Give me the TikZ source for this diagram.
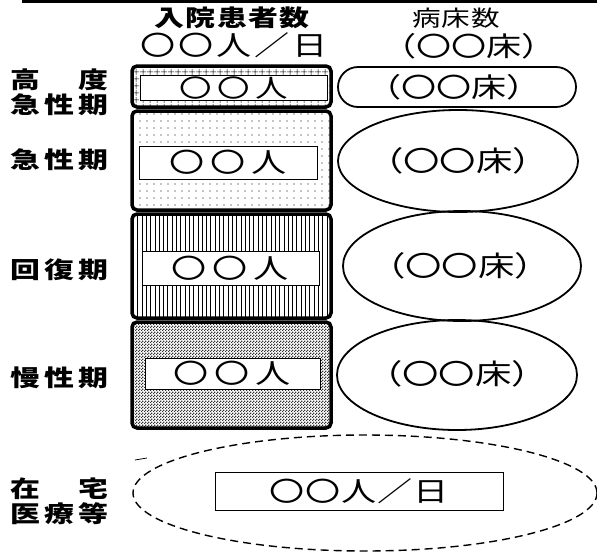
\documentclass[tikz,border=0pt]{standalone}
\usepackage{fontspec}
\newfontfamily\gothic[FakeStretch=1.3]{Noto Sans CJK JP}
\usetikzlibrary{shapes.geometric, shapes.misc, patterns, patterns.meta}

\tikzdeclarepattern{
  name=finechecker, type=uncolored,
  bounding box={(0,0) and (3pt,3pt)}, tile size={(3pt,3pt)},
  code={\fill (0,0) rectangle (1.5pt,1.5pt); \fill (1.5pt,1.5pt) rectangle (3pt,3pt);}
}

\begin{document}
\begin{tikzpicture}[x=1pt, y=-1pt,
    ward/.style={draw, line width=3.5pt, rounded corners=5pt, minimum width=199pt, inner sep=0pt},
    cnt/.style={draw, fill=white, line width=0.8pt, inner sep=0pt, font=\gothic\fontsize{27}{30}\selectfont\addfontfeatures{LetterSpace=22}},
    bed/.style={draw, ellipse, line width=1.8pt, inner sep=0pt},
    bedtxt/.style={inner sep=0pt, font=\gothic\fontsize{28}{30}\selectfont},
    lbl/.style={font=\gothic\bfseries\fontsize{23}{28}\selectfont, align=center},
    head/.style={font=\gothic\bfseries\fontsize{23}{26}\selectfont\addfontfeatures{LetterSpace=5}},
]
    \useasboundingbox (0,0) rectangle (597,555);
    \draw[line width=3pt] (22,1.5) coordinate (t0) -- (597,1.5) coordinate (t1);

    % headings
    \node[head] (hpat) at (232,18) {入院患者数};
    \node[font=\gothic\fontsize{27}{30}\selectfont\addfontfeatures{LetterSpace=10}] (hnum) at (234,45) {〇〇人／日};
    \node[font=\gothic\fontsize{22}{26}\selectfont\addfontfeatures{LetterSpace=4}] (hbed) at (456,18) {病床数};
    \node[font=\gothic\fontsize{27}{30}\selectfont] (hbnum) at (469,46) {（〇〇床）};

    % patient boxes
    \node[ward, minimum height=41pt, pattern={Hatch[distance=6.5pt, line width=0.6pt]}] (w1) at (231.5,86.5) {};
    \node[ward, minimum height=99pt, pattern={Dots[distance=7pt, radius=0.6pt]}] (w2) at (231.5,160.5) {};
    \node[ward, minimum height=104pt, pattern={Lines[angle=90, distance=4.3pt, line width=0.45pt]}] (w3) at (231.5,266) {};
    \node[ward, minimum height=106pt, pattern=finechecker, pattern color=black!80] (w4) at (231.5,375) {};

    \node[cnt, minimum width=187pt, minimum height=25pt, font=\gothic\fontsize{25}{26}\selectfont\addfontfeatures{LetterSpace=22}] (c1) at (233.5,87.5) {〇〇人};
    \node[cnt, minimum width=178pt, minimum height=33pt] (c2) at (228,162.5) {〇〇人};
    \node[cnt, minimum width=177pt, minimum height=34pt] (c3) at (230.5,268) {〇〇人};
    \node[cnt, minimum width=175pt, minimum height=31pt] (c4) at (232.5,373.5) {〇〇人};

    % bed counts
    \node[draw, rounded rectangle, line width=1.8pt, minimum width=238pt, minimum height=40pt, inner sep=0pt] (b1) at (457,87) {};
    \node[bed, minimum width=240pt, minimum height=102pt] (b2) at (458,161) {};
    \node[bed, minimum width=238pt, minimum height=110pt] (b3) at (462,266) {};
    \node[bed, minimum width=240pt, minimum height=110pt] (b4) at (457,375) {};
    \node[bedtxt, font=\gothic\fontsize{27}{30}\selectfont] (b1t) at (454,87) {（〇〇床）};
    \node[bedtxt] (b2t) at (458,161) {（〇〇床）};
    \node[bedtxt] (b3t) at (460,266) {（〇〇床）};
    \node[bedtxt] (b4t) at (457,374) {（〇〇床）};

    % home care
    \node[draw, ellipse, dashed, dash pattern=on 8pt off 5pt, line width=1.4pt, minimum width=464pt, minimum height=116pt] (home) at (365,493) {};
    \node[draw, line width=0.8pt, minimum width=288pt, minimum height=38pt, inner sep=0pt,
          font=\gothic\fontsize{27}{30}\selectfont\addfontfeatures{LetterSpace=4}] (hcnt) at (359,491) {〇〇人／日};
    \coordinate (k0) at (135,460);
    \coordinate (k1) at (147,458);
    \draw[line width=0.8pt] (k0) -- (k1);

    % row labels
    \node[lbl] (l1) at (59,92) {\makebox[98pt]{高\hfill 度}\\[-3pt]\makebox[98pt]{急\hfill 性\hfill 期}};
    \node[lbl] (l2) at (59,160) {\makebox[98pt]{急\hfill 性\hfill 期}};
    \node[lbl] (l3) at (59,270) {\makebox[98pt]{回\hfill 復\hfill 期}};
    \node[lbl] (l4) at (59,378) {\makebox[98pt]{慢\hfill 性\hfill 期}};
    \node[lbl] (l5) at (59,501) {\makebox[98pt]{在\hfill 宅}\\[-3pt]\makebox[98pt]{医\hfill 療\hfill 等}};
\end{tikzpicture}
\end{document}
